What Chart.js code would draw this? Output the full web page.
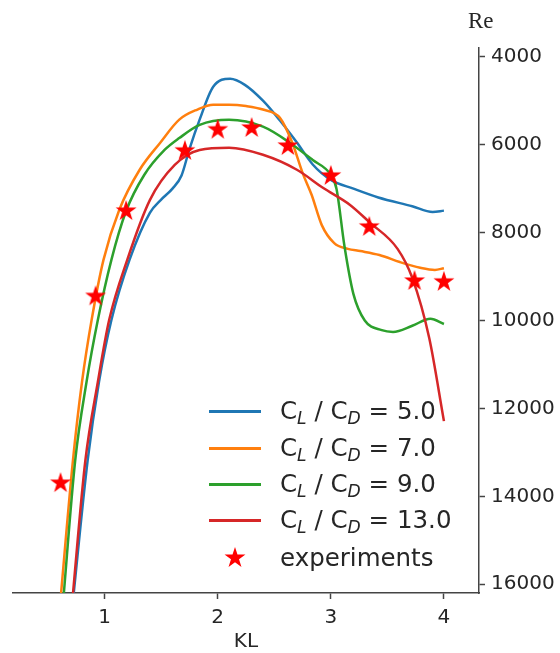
<!DOCTYPE html>
<html>
<head>
<meta charset="utf-8">
<script src="https://cdn.jsdelivr.net/npm/chart.js@4.4.1/dist/chart.umd.min.js"></script>
<style>
  html, body { margin: 0; padding: 0; background: #fff; }
  #wrap { position: relative; width: 560px; height: 653px; }
  #legend { position: absolute; left: 0; top: 0; font-family: 'DejaVu Sans'; font-size: 24.5px; color: #262626; }
  .row { position: absolute; left: 280px; height: 36px; line-height: 36px; white-space: nowrap; }
  .row sub { font-size: 70%; font-style: italic; vertical-align: -0.28em; line-height: 0; }
  .swatch { position: absolute; left: 209px; width: 52px; height: 3px; }
  #re { position: absolute; left: 468px; top: 9px; font-family: 'Liberation Serif'; font-size: 23px; line-height: 23px; color: #262626; }
</style>
</head>
<body>
<div id="wrap">
  <canvas id="chart"></canvas>
  <div id="re">Re</div>
  <div id="legend"></div>
</div>
<script>
// axes
const X_TICKS = [1, 2, 3, 4];
const Y_TICKS = [4000, 6000, 8000, 10000, 12000, 14000, 16000];

// C_L / C_D = 5.0
const KL_5 = [0.715, 0.85, 0.95, 1.06, 1.22, 1.4, 1.5, 1.6, 1.68, 1.75, 1.84, 1.96, 2.11, 2.24, 2.4, 2.55, 2.7, 2.84, 3.0, 3.2, 3.42, 3.72, 3.9, 4.0];
const RE_5 = [16500, 13180, 11400, 9990, 8620, 7550, 7250, 7000, 6700, 6100, 5430, 4680, 4500, 4640, 5000, 5450, 5950, 6450, 6800, 7000, 7200, 7400, 7530, 7500];
// C_L / C_D = 7.0
const KL_7 = [0.605, 0.72, 0.80, 0.885, 0.99, 1.13, 1.31, 1.49, 1.66, 1.82, 1.96, 2.1, 2.25, 2.4, 2.55, 2.66, 2.75, 2.83, 2.92, 3.03, 3.15, 3.26, 3.43, 3.61, 3.79, 3.92, 4.0];
const RE_7 = [16500, 13180, 11400, 9990, 8620, 7480, 6570, 5960, 5430, 5200, 5090, 5090, 5120, 5200, 5390, 5960, 6640, 7140, 7830, 8240, 8370, 8420, 8510, 8670, 8800, 8850, 8810];
// C_L / C_D = 9.0
const KL_9 = [0.63, 0.74, 0.84, 0.94, 1.06, 1.19, 1.35, 1.53, 1.66, 1.84, 2.1, 2.4, 2.64, 2.84, 3.0, 3.05, 3.12, 3.2, 3.3, 3.45, 3.55, 3.72, 3.88, 4.0];
const RE_9 = [16500, 13180, 11400, 9990, 8620, 7510, 6690, 6120, 5850, 5550, 5435, 5590, 5960, 6350, 6690, 7000, 8300, 9400, 10000, 10220, 10260, 10120, 9960, 10080];
// C_L / C_D = 13.0
const KL_13 = [0.71, 0.83, 0.94, 1.04, 1.2, 1.4, 1.62, 1.84, 2.1, 2.4, 2.7, 2.93, 3.17, 3.34, 3.59, 3.72, 3.87, 4.0];
const RE_13 = [16500, 13180, 11400, 9990, 8620, 7260, 6460, 6120, 6070, 6230, 6570, 6980, 7370, 7760, 8370, 9030, 10400, 12290];
// experiments
const KL_EXP = [0.61, 0.92, 1.19, 1.71, 2.0, 2.3, 2.62, 3.0, 3.34, 3.74, 4.0];
const RE_EXP = [13700, 9450, 7510, 6140, 5660, 5620, 6030, 6710, 7870, 9100, 9120];

const RATIOS = ['5.0', '7.0', '9.0', '13.0'];
const COLORS = ['#1f77b4', '#ff7f0e', '#2ca02c', '#d62728'];
const SERIES = [[KL_5, RE_5], [KL_7, RE_7], [KL_9, RE_9], [KL_13, RE_13]];

const zip = (xs, ys) => xs.map((x, i) => ({ x, y: ys[i] }));

// filled star like matplotlib '*'
function makeStar(r) {
  const c = document.createElement('canvas');
  const s = Math.ceil(r * 2 + 2);
  c.width = s; c.height = s;
  const g = c.getContext('2d');
  g.beginPath();
  for (let i = 0; i < 10; i++) {
    const rad = i % 2 === 0 ? r : r * 0.382;
    const a = -Math.PI / 2 + i * Math.PI / 5;
    g.lineTo(s / 2 + rad * Math.cos(a), s / 2 + rad * Math.sin(a));
  }
  g.closePath();
  g.fillStyle = '#ff0000';
  g.fill();
  return c;
}
const star = makeStar(11);

const datasets = SERIES.map((s, i) => ({
  label: 'CL / CD = ' + RATIOS[i],
  data: zip(s[0], s[1]),
  borderColor: COLORS[i],
  borderWidth: 2.5,
  pointRadius: 0,
  cubicInterpolationMode: 'monotone',
  order: 4 - i,
}));
datasets.push({
  label: 'experiments',
  data: zip(KL_EXP, RE_EXP),
  showLine: false,
  pointStyle: star,
  pointRadius: 11,
  order: 0,
});

const AX = '#444';
const TXT = '#262626';
const tickFont = { family: 'DejaVu Sans', size: 20 };

new Chart(document.getElementById('chart'), {
  type: 'line',
  data: { datasets },
  options: {
    responsive: true, maintainAspectRatio: false, animation: false,
    layout: { padding: { left: 13, top: 48, right: 0, bottom: 0 } },
    plugins: { legend: { display: false }, tooltip: { enabled: false } },
    scales: {
      x: {
        type: 'linear', min: 0.19, max: 4.31,
        afterBuildTicks: (a) => { a.ticks = X_TICKS.map((v) => ({ value: v })); },
        afterFit: (a) => { a.height = 60; },
        ticks: { font: tickFont, color: TXT, padding: 7, maxRotation: 0 },
        grid: { display: true, drawOnChartArea: false, drawTicks: true, tickLength: 6, tickWidth: 1.5, color: AX },
        border: { display: true, color: AX, width: 1.5 },
        title: { display: true, text: 'KL', font: tickFont, color: TXT, padding: { top: 0, bottom: -1 } },
      },
      y: {
        type: 'linear', position: 'right', reverse: true, min: 3800, max: 16200,
        afterBuildTicks: (a) => { a.ticks = Y_TICKS.map((v) => ({ value: v })); },
        afterFit: (a) => { a.width = 81; },
        ticks: { font: tickFont, color: TXT, padding: 6, callback: (v) => String(v) },
        grid: { display: true, drawOnChartArea: false, drawTicks: true, tickLength: 6, tickWidth: 1.5, color: AX },
        border: { display: true, color: AX, width: 1.5 },
      },
    },
  },
});

// legend with subscripts
const legend = document.getElementById('legend');
const ROW_Y = [411, 448, 484, 520, 558];
RATIOS.forEach((r, i) => {
  const sw = document.createElement('div');
  sw.className = 'swatch';
  sw.style.background = COLORS[i];
  sw.style.top = (ROW_Y[i] - 1.5) + 'px';
  legend.appendChild(sw);
  const row = document.createElement('div');
  row.className = 'row';
  row.style.top = (ROW_Y[i] - 18) + 'px';
  row.innerHTML = `C<sub>L</sub> / C<sub>D</sub> = ${r}`;
  legend.appendChild(row);
});
const st = makeStar(11);
st.style.position = 'absolute';
st.style.left = (235 - st.width / 2) + 'px';
st.style.top = (ROW_Y[4] - st.height / 2) + 'px';
legend.appendChild(st);
const ex = document.createElement('div');
ex.className = 'row';
ex.style.top = (ROW_Y[4] - 18) + 'px';
ex.textContent = 'experiments';
legend.appendChild(ex);
</script>
</body>
</html>
